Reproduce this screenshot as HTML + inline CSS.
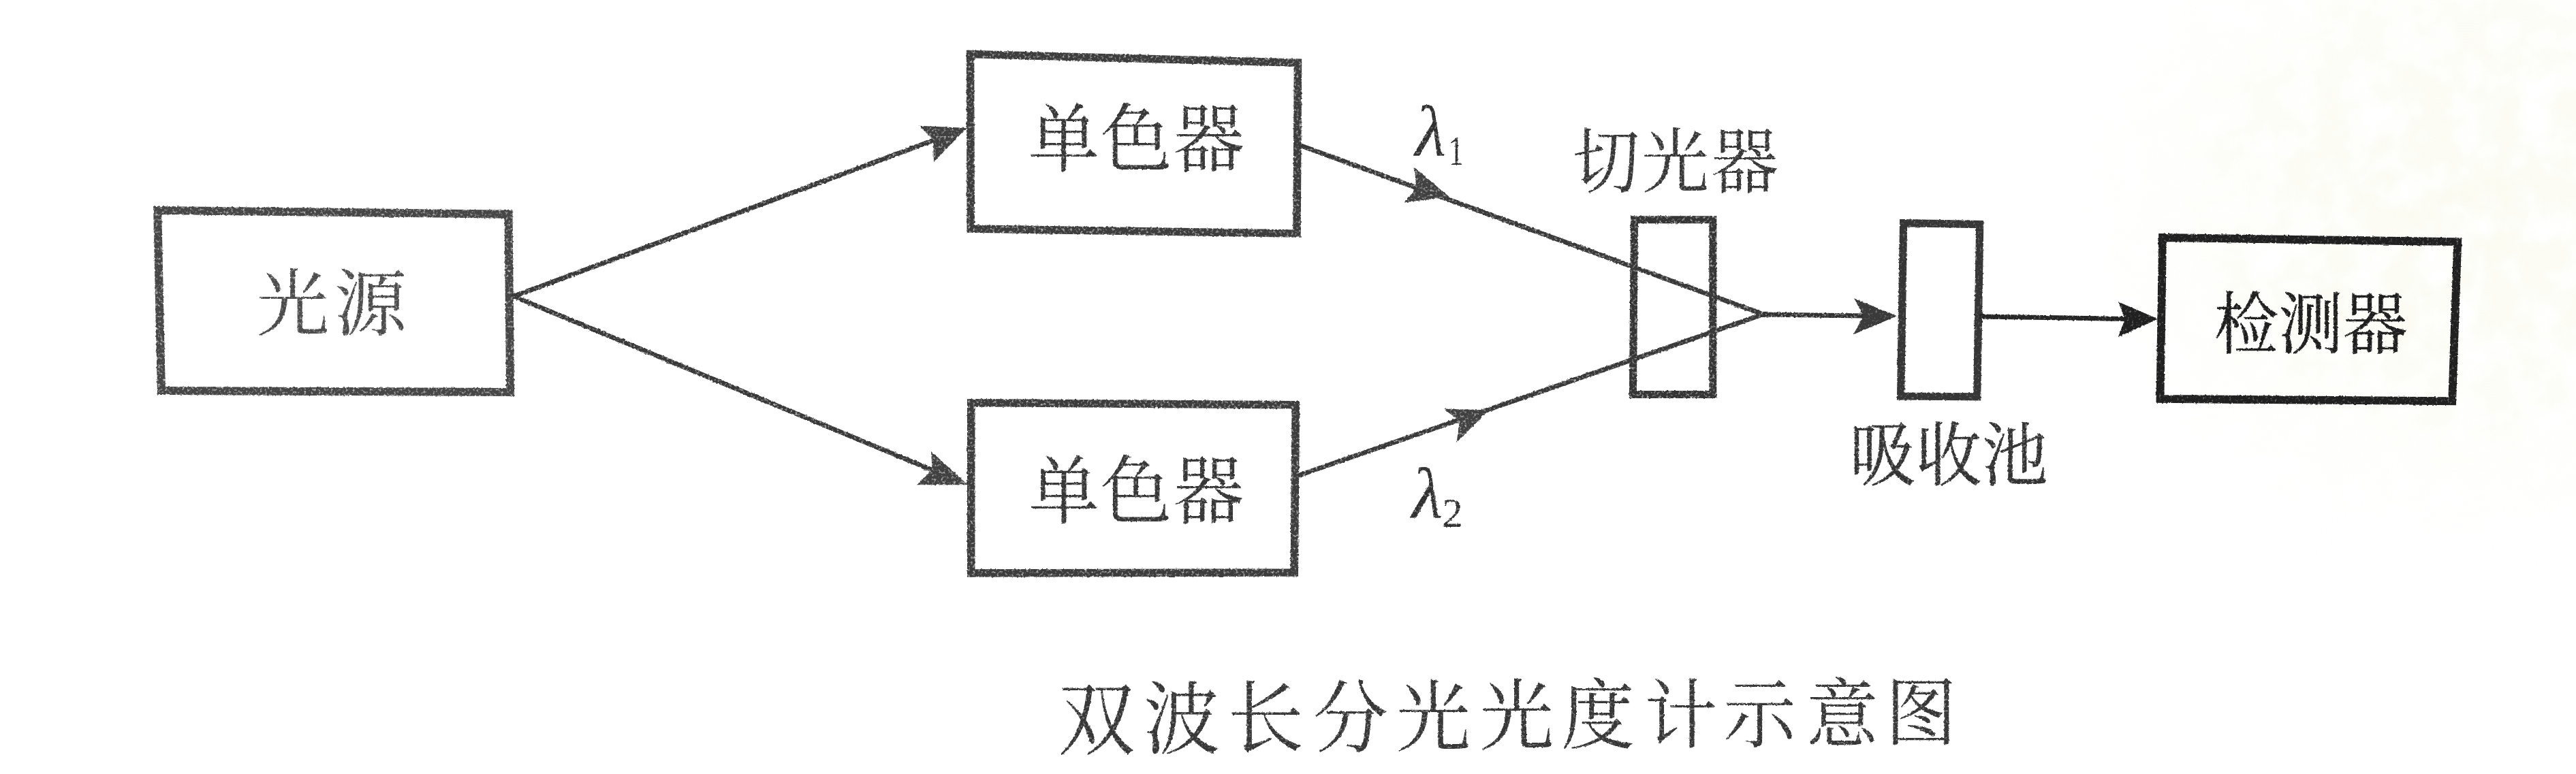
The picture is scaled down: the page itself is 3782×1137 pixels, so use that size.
<!DOCTYPE html>
<html lang="zh-CN">
<head>
<meta charset="utf-8">
<title>双波长分光光度计示意图</title>
<style>
html,body{margin:0;padding:0;background:#fff;}
body{width:3782px;height:1137px;overflow:hidden;position:relative;}
svg{position:absolute;left:0;top:0;display:block;}
.cjk{font-family:"Liberation Serif","Noto Serif CJK SC",serif;font-weight:400;fill:#363636;}
.lam{font-family:"Liberation Serif","DejaVu Serif",serif;font-style:italic;fill:#303030;}
.sub{font-family:"Liberation Serif",serif;fill:#303030;}
.ln{stroke:#383838;stroke-width:7;fill:none;stroke-linecap:butt;}
.bx{stroke:#3c3c3c;stroke-width:12;fill:none;stroke-linejoin:miter;}
.ah{fill:#404040;stroke:none;}
</style>
</head>
<body>
<svg width="3782" height="1137" viewBox="0 0 3782 1137">
  <defs>
    <radialGradient id="tint" cx="0.5" cy="0.5" r="0.5">
      <stop offset="0" stop-color="#fafaee" stop-opacity="0.85"/>
      <stop offset="0.55" stop-color="#fbfbf1" stop-opacity="0.55"/>
      <stop offset="1" stop-color="#ffffff" stop-opacity="0"/>
    </radialGradient>
    <filter id="mottle" x="2850" y="0" width="932" height="900" filterUnits="userSpaceOnUse" color-interpolation-filters="sRGB">
      <feTurbulence type="fractalNoise" baseFrequency="0.02" numOctaves="3" seed="4" result="m"/>
      <feColorMatrix in="m" type="matrix" values="0 0 0 0 0  0 0 0 0 0  0 0 0 0 0  2.4 0 0 0 -0.55" result="ma"/>
      <feComposite in="SourceGraphic" in2="ma" operator="in"/>
    </filter>
    <filter id="grain" x="0" y="0" width="3782" height="1137" filterUnits="userSpaceOnUse" color-interpolation-filters="sRGB">
      <feTurbulence type="fractalNoise" baseFrequency="0.28" numOctaves="2" seed="7" result="n"/>
      <feDisplacementMap in="SourceGraphic" in2="n" scale="3.2" xChannelSelector="R" yChannelSelector="G" result="d"/>
      <feColorMatrix in="n" type="matrix" values="0 0 0 0 0  0 0 0 0 0  0 0 0 0 0  0 0 -2.1 0 2.1" result="a"/>
      <feComposite in="d" in2="a" operator="in"/>
    </filter>
    <filter id="grainR" x="2650" y="280" width="1050" height="480" filterUnits="userSpaceOnUse" color-interpolation-filters="sRGB">
      <feTurbulence type="fractalNoise" baseFrequency="0.3" numOctaves="2" seed="11" result="n"/>
      <feDisplacementMap in="SourceGraphic" in2="n" scale="3" xChannelSelector="R" yChannelSelector="G" result="d"/>
      <feColorMatrix in="n" type="matrix" values="0 0 0 0 0  0 0 0 0 0  0 0 0 0 0  0 0 -1.3 0 1.75" result="a"/>
      <feComposite in="d" in2="a" operator="in"/>
    </filter>
    <filter id="grainT" x="0" y="0" width="3782" height="1137" filterUnits="userSpaceOnUse" color-interpolation-filters="sRGB">
      <feTurbulence type="fractalNoise" baseFrequency="0.3" numOctaves="2" seed="19" result="n"/>
      <feDisplacementMap in="SourceGraphic" in2="n" scale="3" xChannelSelector="R" yChannelSelector="G" result="d"/>
      <feColorMatrix in="n" type="matrix" values="0 0 0 0 0  0 0 0 0 0  0 0 0 0 0  0 0 -1.7 0 1.9" result="a"/>
      <feComposite in="d" in2="a" operator="in"/>
    </filter>
  </defs>
  <rect x="0" y="0" width="3782" height="1137" fill="#ffffff"/>
  <ellipse cx="3620" cy="300" rx="640" ry="560" fill="url(#tint)" filter="url(#mottle)"/>

  <g id="strokes" filter="url(#grain)">
  <!-- boxes -->
  <polygon class="bx" style="stroke:#464646" points="231.2,309 746.5,314.7 749.2,576.1 236.9,574"/>
  <polygon class="bx" style="stroke-width:11.5" points="1424.5,79.5 1905.5,92.2 1904,343 1425.3,336"/>
  <polygon class="bx" style="stroke-width:11.5" points="1425.7,591.7 1902.3,594.7 1900.3,841 1425.7,842"/>
  <polygon class="bx" style="stroke:#343434;stroke-width:11" points="2399.5,322.7 2514.8,322.7 2514.8,579.6 2397.4,579.6"/>

  <!-- lines -->
  <line class="ln" x1="751" y1="436.5" x2="1372" y2="205.5"/>
  <line class="ln" x1="751" y1="434" x2="1371" y2="691.5"/>
  <line class="ln" x1="1908" y1="213.2" x2="2592" y2="463"/>
  <line class="ln" x1="1905" y1="699" x2="2592" y2="460.5"/>
  <line class="ln" style="stroke:#303030" x1="2586" y1="462" x2="2740" y2="464"/>

  <!-- arrow heads -->
  <polygon class="ah" points="1419,188 1349.5,184.7 1370,205.6 1371,238"/>
  <polygon class="ah" points="1421,712.3 1367,663 1368.6,690.2 1346,712.3"/>
  <polygon class="ah" points="2127.7,289 2076.6,245.9 2079.4,276.3 2061.5,297.6"/>
  <polygon class="ah" points="2186,602.6 2119,600.6 2143,618 2138.5,650"/>
  </g>

  <g id="right" filter="url(#grainR)">
  <polygon class="bx" style="stroke:#363636;stroke-width:11.2" points="2794.6,327.6 2906.7,329.6 2902.7,582.8 2790.6,582"/>
  <polygon class="bx" style="stroke:#202020;stroke-width:11.8" points="3175,349 3608.2,355.2 3600.2,589.2 3171.5,586"/>
  <line class="ln" style="stroke:#242424" x1="2906" y1="465" x2="3122" y2="468.4"/>
  <polygon class="ah" style="fill:#3a3a3a" points="2785,464.2 2722,438.2 2736,464 2720.8,491.4"/>
  <polygon class="ah" style="fill:#202020" points="3168.5,468.4 3109.8,443.3 3120,468.4 3109.8,495.1"/>
  <text class="cjk" style="fill:#1e1e1e;stroke:#1e1e1e;stroke-width:0.5" transform="translate(3250.5,511) scale(0.957,1)" x="0" y="0" font-size="99">检测器</text>
  </g>

  <g id="labels" filter="url(#grainT)">
  <text class="cjk" style="fill:#4c4c4c" x="376.5" y="483.5" font-size="107" letter-spacing="7">光源</text>
  <text class="cjk" transform="translate(1509.5,243) scale(0.96,1)" x="0" y="0" font-size="109" letter-spacing="2">单色器</text>
  <text class="cjk" transform="translate(1510,760) scale(0.955,1)" x="0" y="0" font-size="109" letter-spacing="2.2">单色器</text>
  <text class="cjk" transform="translate(2308.7,275) scale(0.95,1)" x="0" y="0" font-size="104" letter-spacing="3.2">切光器</text>
  <text class="cjk" style="fill:#323232;stroke:#323232;stroke-width:0.6" transform="translate(2715.5,704.5) scale(0.952,1)" x="0" y="0" font-size="102">吸收池</text>
  <text class="cjk" transform="scale(1,1.04)"><tspan x="1553.5" y="1056.5" font-size="113.0">双</tspan><tspan x="1678.9" y="1055.3" font-size="112.2">波</tspan><tspan x="1802.8" y="1054.0" font-size="111.4">长</tspan><tspan x="1927.8" y="1052.8" font-size="110.5">分</tspan><tspan x="2049.8" y="1051.6" font-size="109.7">光</tspan><tspan x="2172.4" y="1050.4" font-size="108.9">光</tspan><tspan x="2292.0" y="1049.2" font-size="108.1">度</tspan><tspan x="2414.5" y="1048.1" font-size="107.3">计</tspan><tspan x="2530.2" y="1046.8" font-size="106.6">示</tspan><tspan x="2651.9" y="1045.7" font-size="105.8">意</tspan><tspan x="2768.1" y="1044.5" font-size="105.0">图</tspan></text>

  <text class="lam" x="2077.5" y="227.5" font-size="105">λ</text>
  <text class="sub" transform="translate(2127,242) scale(0.7,1)" x="0" y="0" font-size="62">1</text>
  <text class="lam" x="2072.5" y="759.5" font-size="105">λ</text>
  <text class="sub" x="2117" y="773.5" font-size="62">2</text>
  </g>
</svg>
</body>
</html>
